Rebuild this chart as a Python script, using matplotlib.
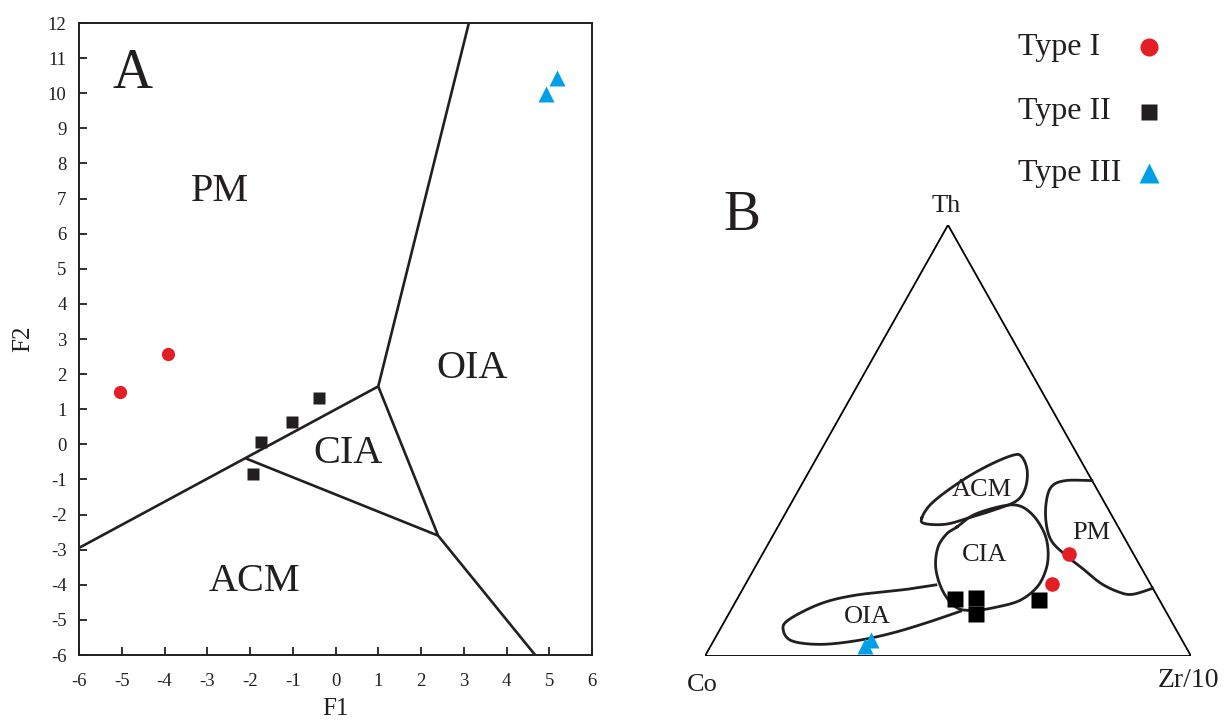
import matplotlib
matplotlib.use("Agg")
import matplotlib.pyplot as plt
from matplotlib.lines import Line2D
import numpy as np

plt.rcParams['font.family'] = ['Liberation Serif', 'DejaVu Serif']
plt.rcParams['axes.unicode_minus'] = False

INK = '#231F20'
RED = '#E31E24'
BLUE = '#00A0E9'

# ---- panel A: F1-F2 discriminant diagram ----
# boundary lines (F1, F2)
main_line = [(-6.0, -2.95), (1.0, 1.65)]
oia_pm_line = [(1.0, 1.65), (3.12, 12.0)]
cia_oia_line = [(1.0, 1.65), (2.4, -2.6), (4.67, -6.0)]
acm_cia_line = [(-2.1, -0.4), (2.4, -2.6)]

type1_f1 = [-5.05, -3.92]
type1_f2 = [1.48, 2.57]
type2_f1 = [-0.39, -1.02, -1.74, -1.92]
type2_f2 = [1.31, 0.64, 0.07, -0.84]
type3_f1 = [4.93, 5.18]
type3_f2 = [9.97, 10.42]

fields_a = ['PM', 'OIA', 'CIA', 'ACM']
fields_a_xy = [(-2.7, 7.2), (3.2, 2.15), (0.3, -0.25), (-1.9, -3.9)]

# ---- panel B: Th-Co-Zr/10 ternary (Co, Th, Zr/10 in %) ----
type1_tern = [(13.3, 23.6, 63.1), (20.2, 16.8, 63.0)]
type2_tern = [(42.0, 13.3, 44.7), (37.5, 13.5, 49.0), (39.4, 9.7, 50.9), (24.7, 13.1, 62.2)]
type3_tern = [(65.8, 2.4, 31.8), (64.1, 3.6, 32.3)]

# field outlines in triangle plot units (x along base, y = Th fraction)
acm_outline = [(0.446, 0.320), (0.468, 0.356), (0.526, 0.405), (0.583, 0.442),
               (0.634, 0.466), (0.652, 0.462), (0.663, 0.430), (0.659, 0.389),
               (0.641, 0.360), (0.598, 0.340), (0.547, 0.322), (0.497, 0.306),
               (0.453, 0.307)]
cia_outline = [(0.518, 0.299), (0.554, 0.328), (0.612, 0.348), (0.648, 0.348),
               (0.677, 0.324), (0.699, 0.283), (0.706, 0.242), (0.702, 0.202),
               (0.684, 0.161), (0.648, 0.129), (0.598, 0.113), (0.555, 0.106),
               (0.518, 0.112), (0.490, 0.149), (0.475, 0.202), (0.479, 0.251),
               (0.497, 0.283)]
oia_outline = [(0.475, 0.165), (0.417, 0.155), (0.309, 0.141), (0.237, 0.121),
               (0.172, 0.084), (0.161, 0.060), (0.179, 0.035), (0.237, 0.027),
               (0.309, 0.035), (0.381, 0.052), (0.453, 0.076), (0.526, 0.104)]
pm_outline = [(0.796, 0.407), (0.742, 0.407), (0.713, 0.393), (0.702, 0.356),
              (0.702, 0.308), (0.713, 0.267), (0.742, 0.234), (0.778, 0.202),
              (0.814, 0.169), (0.850, 0.149), (0.879, 0.143), (0.921, 0.157)]

fields_b = ['ACM', 'CIA', 'OIA', 'PM']
fields_b_xy = [(0.570, 0.385), (0.575, 0.235), (0.335, 0.090), (0.795, 0.285)]


def catmull_rom(pts, closed, n=24):
    p = np.asarray(pts, dtype=float)
    if closed:
        p = np.vstack([p[-1], p, p[0], p[1]])
    else:
        p = np.vstack([p[0], p, p[-1]])
    t = np.linspace(0, 1, n, endpoint=False)[:, None]
    segs = []
    for i in range(1, len(p) - 2):
        p0, p1, p2, p3 = p[i - 1], p[i], p[i + 1], p[i + 2]
        segs.append(0.5 * (2 * p1 + (-p0 + p2) * t
                           + (2 * p0 - 5 * p1 + 4 * p2 - p3) * t ** 2
                           + (-p0 + 3 * p1 - 3 * p2 + p3) * t ** 3))
    segs.append(p[-2][None])
    return np.vstack(segs)


def tern_xy(rows):
    a = np.asarray(rows, dtype=float)
    a = a / a.sum(axis=1, keepdims=True)
    th, zr = a[:, 1], a[:, 2]
    return zr + th / 2, th


fig = plt.figure(figsize=(12.27, 7.26), dpi=100)

# panel A
ax = fig.add_axes([79 / 1227, 71 / 726, 513 / 1227, 632 / 726])
for seg in [main_line, oia_pm_line, cia_oia_line, acm_cia_line]:
    xs, ys = zip(*seg)
    ax.plot(xs, ys, color=INK, lw=1.9, solid_capstyle='butt', zorder=2)

ax.plot(type1_f1, type1_f2, 'o', color=RED, ms=9.5, mec='none', zorder=3)
ax.plot(type2_f1, type2_f2, 's', color=INK, ms=9.2, mec='none', zorder=3)
ax.plot(type3_f1, type3_f2, '^', color=BLUE, ms=11, mec='none', zorder=3)

for name, (x, y) in zip(fields_a, fields_a_xy):
    ax.text(x, y, name, fontsize=29, color=INK, ha='center', va='center')
ax.text(-4.75, 10.55, 'A', fontsize=40, color=INK, ha='center', va='center')

ax.set_xlim(-6, 6)
ax.set_ylim(-6, 12)
ax.set_xticks(np.arange(-6, 7, 1))
ax.set_yticks(np.arange(-6, 13, 1))
ax.tick_params(direction='in', length=6, width=1.3, color=INK, labelsize=13.5,
               labelcolor=INK, pad=9)
ax.tick_params(axis='x', pad=13)
for s in ax.spines.values():
    s.set_linewidth(1.4)
    s.set_color(INK)
ax.set_xlabel('F1', fontsize=18, color=INK, labelpad=6)
ax.set_ylabel('F2', fontsize=18, color=INK, labelpad=10)

# panel B
axb = fig.add_axes([705 / 1227, 70 / 726, 486 / 1227, 431 / 726])
axb.set_xlim(0, 1)
axb.set_ylim(0, 1)
axb.axis('off')
axb.plot([0, 1, 0.5, 0], [0, 0, 1, 0], color='black', lw=1.3, zorder=1)

for pts, closed in [(acm_outline, True), (cia_outline, True),
                    (oia_outline, False), (pm_outline, False)]:
    c = catmull_rom(pts, closed)
    axb.plot(c[:, 0], c[:, 1], color=INK, lw=2.0, zorder=2)

for name, (x, y) in zip(fields_b, fields_b_xy):
    axb.text(x, y, name, fontsize=19, color=INK, ha='center', va='center')

x, y = tern_xy(type1_tern)
axb.plot(x, y, 'o', color=RED, ms=10.5, mec='none', zorder=3, clip_on=False)
x, y = tern_xy(type2_tern)
axb.plot(x, y, 's', color='black', ms=11, mec='none', zorder=3, clip_on=False)
x, y = tern_xy(type3_tern)
axb.plot(x, y, '^', color=BLUE, ms=11.5, mec='none', zorder=3, clip_on=False)

axb.text(0.496, 1.045, 'Th', fontsize=19, color=INK, ha='center', va='center')
axb.text(-0.005, -0.068, 'Co', fontsize=19, color=INK, ha='center', va='center')
axb.text(0.995, -0.058, 'Zr/10', fontsize=20, color=INK, ha='center', va='center')
axb.text(0.076, 1.02, 'B', fontsize=40, color=INK, ha='center', va='center')

# legend
legend_labels = ['Type I', 'Type II', 'Type III']
legend_styles = [('o', RED, 13), ('s', INK, 11), ('^', BLUE, 14)]
legend_rows = [47, 112, 173]
for label, (m, c, ms), yp in zip(legend_labels, legend_styles, legend_rows):
    fy = 1 - yp / 726
    fig.text(1018 / 1227, fy, label, fontsize=23, color=INK, ha='left', va='center')
    fig.add_artist(Line2D([1149 / 1227], [fy], transform=fig.transFigure,
                          marker=m, color=c, ms=ms, mec='none', ls='none'))

fig.savefig('out.png', dpi=100)
